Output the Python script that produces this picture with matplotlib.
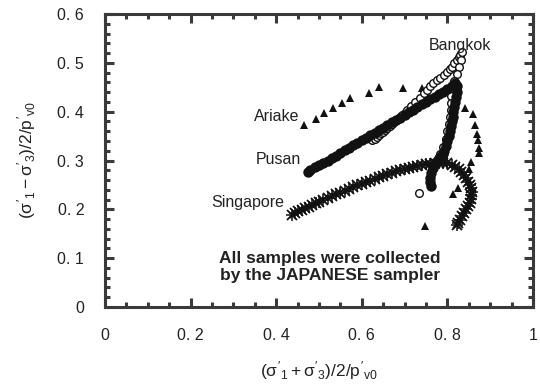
import matplotlib

matplotlib.use("Agg")

import matplotlib.pyplot as plt
from matplotlib.ticker import MultipleLocator

plt.rcParams["font.family"] = ["Liberation Sans", "DejaVu Sans"]
plt.rcParams["mathtext.fontset"] = "custom"
plt.rcParams["mathtext.rm"] = "Liberation Sans"
plt.rcParams["mathtext.it"] = "Liberation Sans"
plt.rcParams["mathtext.bf"] = "Liberation Sans:bold"

INK = "#222222"
SPINE = "#3a3a3a"

# values
ariake_x = [0.465, 0.493, 0.512, 0.533, 0.554, 0.572, 0.617, 0.640, 0.696, 0.741,
            0.841, 0.860, 0.864, 0.869, 0.871, 0.874, 0.874, 0.855, 0.850, 0.825,
            0.813, 0.748]
ariake_y = [0.373, 0.385, 0.398, 0.408, 0.418, 0.428, 0.439, 0.451, 0.449, 0.449,
            0.408, 0.395, 0.373, 0.355, 0.342, 0.326, 0.316, 0.297, 0.283, 0.244,
            0.232, 0.166]

pusan_x = [0.474, 0.48, 0.49, 0.50, 0.51, 0.52, 0.53, 0.54, 0.55, 0.56, 0.57, 0.58,
           0.59, 0.60, 0.61, 0.62, 0.63, 0.64, 0.65, 0.66, 0.67, 0.68, 0.69, 0.70,
           0.71, 0.72, 0.73, 0.74, 0.75, 0.76, 0.77, 0.78, 0.79, 0.80, 0.81, 0.818,
           0.822, 0.822, 0.820, 0.818, 0.816, 0.814, 0.812, 0.810, 0.808, 0.806,
           0.803, 0.800, 0.797, 0.793, 0.789, 0.785, 0.780, 0.772, 0.766, 0.762,
           0.760, 0.760, 0.762]
pusan_y = [0.277, 0.281, 0.286, 0.290, 0.295, 0.300, 0.305, 0.310, 0.316, 0.321,
           0.326, 0.331, 0.336, 0.341, 0.347, 0.352, 0.357, 0.362, 0.367, 0.373,
           0.378, 0.383, 0.388, 0.394, 0.399, 0.404, 0.409, 0.415, 0.420, 0.425,
           0.431, 0.436, 0.441, 0.447, 0.453, 0.458,
           0.452, 0.440, 0.430, 0.420, 0.410, 0.400, 0.390, 0.380, 0.370, 0.360,
           0.350, 0.340, 0.330, 0.320, 0.313, 0.310, 0.305, 0.295, 0.285, 0.275,
           0.265, 0.255, 0.248]

bangkok_x = [0.624, 0.630, 0.635, 0.640, 0.645, 0.650, 0.655, 0.660, 0.665, 0.670,
             0.675, 0.680, 0.685, 0.690, 0.695, 0.700, 0.705, 0.715,
             0.725, 0.735, 0.745, 0.752, 0.760, 0.766, 0.775, 0.783, 0.791, 0.799,
             0.805, 0.811, 0.816, 0.822, 0.826, 0.829, 0.834, 0.832, 0.828, 0.822,
             0.816, 0.811, 0.808, 0.808, 0.808, 0.806, 0.803, 0.800, 0.797, 0.790,
             0.782, 0.772, 0.764, 0.759, 0.734]
bangkok_y = [0.342, 0.345, 0.349, 0.352, 0.356, 0.359, 0.363, 0.366, 0.370, 0.374,
             0.378, 0.382, 0.386, 0.390, 0.394, 0.398, 0.403, 0.412,
             0.420, 0.429, 0.438, 0.445, 0.453, 0.459, 0.464, 0.469, 0.476, 0.482,
             0.487, 0.492, 0.499, 0.506, 0.511, 0.516, 0.522, 0.505, 0.492, 0.478,
             0.462, 0.447, 0.432, 0.418, 0.404, 0.390, 0.375, 0.360, 0.345, 0.328,
             0.313, 0.296, 0.280, 0.265, 0.234]

singapore_x = [0.437, 0.445, 0.452, 0.46, 0.468, 0.476, 0.484, 0.492, 0.50, 0.51,
               0.52, 0.53, 0.54, 0.55, 0.56, 0.57, 0.58, 0.59, 0.60, 0.61, 0.62,
               0.63, 0.64, 0.65, 0.66, 0.67, 0.68, 0.69, 0.70, 0.71, 0.72, 0.73,
               0.74, 0.75, 0.76, 0.77, 0.78, 0.79, 0.80, 0.81, 0.818, 0.826, 0.832,
               0.838, 0.843, 0.848, 0.853, 0.856, 0.857, 0.856, 0.855, 0.852, 0.848,
               0.844, 0.839, 0.834, 0.829, 0.825, 0.822]
singapore_y = [0.189, 0.193, 0.196, 0.199, 0.202, 0.205, 0.208, 0.212, 0.216, 0.219,
               0.223, 0.227, 0.231, 0.234, 0.238, 0.242, 0.245, 0.249, 0.252, 0.256,
               0.259, 0.262, 0.266, 0.269, 0.272, 0.275, 0.278, 0.280, 0.282, 0.285,
               0.287, 0.289, 0.290, 0.292, 0.293, 0.294, 0.295, 0.295, 0.294, 0.291,
               0.287, 0.282, 0.277, 0.271, 0.264, 0.257, 0.250, 0.243, 0.236, 0.229,
               0.221, 0.214, 0.207, 0.200, 0.193, 0.186, 0.178, 0.173, 0.168]

x_ticks = [0, 0.2, 0.4, 0.6, 0.8, 1]
x_tick_labels = ["0", "0. 2", "0. 4", "0. 6", "0. 8", "1"]
y_ticks = [0, 0.1, 0.2, 0.3, 0.4, 0.5, 0.6]
y_tick_labels = ["0", "0. 1", "0. 2", "0. 3", "0. 4", "0. 5", "0. 6"]

# label text and anchor (data coords)
series_labels = [("Bangkok", 0.829, 0.535), ("Ariake", 0.401, 0.390),
                 ("Pusan", 0.404, 0.302), ("Singapore", 0.334, 0.213)]


def main() -> None:
    fig = plt.figure(figsize=(5.4, 3.92), dpi=100)
    ax = fig.add_axes([0.1944, 0.2168, 0.7926, 0.7475])

    ax.plot(singapore_x, singapore_y, "x", color="#111111", ms=7, mew=1.3)
    ax.plot(singapore_x, singapore_y, "+", color="#111111", ms=8, mew=1.1)
    ax.plot(ariake_x, ariake_y, "^", color="#111111", ms=6, mew=0)
    ax.plot(bangkok_x, bangkok_y, "o", mfc="white", mec="#111111", ms=5.5, mew=1.0)
    ax.plot(pusan_x, pusan_y, "o", color="#111111", ms=7.5, mew=0)

    for text, x, y in series_labels:
        ax.text(x, y, text, ha="center", va="center", fontsize=11.5, color=INK)

    ax.text(0.526, 0.082, "All samples were collected\nby the JAPANESE sampler",
            ha="center", va="center", fontsize=12.5, fontweight="bold",
            color=INK, linespacing=1.2)

    ax.set_xlim(0, 1)
    ax.set_ylim(0, 0.6)
    ax.set_xticks(x_ticks)
    ax.set_xticklabels(x_tick_labels)
    ax.set_yticks(y_ticks)
    ax.set_yticklabels(y_tick_labels)
    ax.xaxis.set_minor_locator(MultipleLocator(0.05))
    ax.yaxis.set_minor_locator(MultipleLocator(0.02))

    for side in ax.spines.values():
        side.set_linewidth(2.2)
        side.set_color(SPINE)
    ax.tick_params(which="both", direction="in", top=True, right=True,
                   color=SPINE, width=2.2, labelsize=11.5, labelcolor=INK)
    ax.tick_params(which="major", length=6.5, pad=15)
    ax.tick_params(which="minor", length=3.6)

    ax.set_xlabel(r"$(\sigma'_1 + \sigma'_3)/2/p'_{v0}$", fontsize=12.5,
                  color=INK, labelpad=12)
    ax.set_ylabel(r"$(\sigma'_1 - \sigma'_3)/2/p'_{v0}$", fontsize=12.5,
                  color=INK, labelpad=14)

    fig.savefig("out.png", dpi=100)
    plt.close(fig)


if __name__ == "__main__":
    main()
